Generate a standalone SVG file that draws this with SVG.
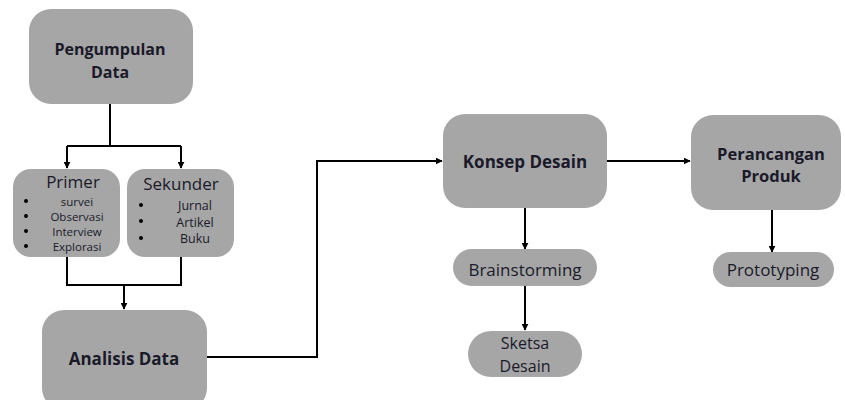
<svg xmlns="http://www.w3.org/2000/svg" width="845" height="400" viewBox="0 0 845 400">
<defs>
<marker id="ah" viewBox="0 0 10 10" refX="9" refY="5" markerWidth="7" markerHeight="7" markerUnits="userSpaceOnUse" orient="auto">
<path d="M0,0 L10,5 L0,10 z" fill="#000"/>
</marker>
<style>
.box{fill:#a6a6a6;}
.t{font-family:"Open Sans","Noto Sans",sans-serif;fill:#1a1a2a;text-anchor:middle;dominant-baseline:central;}
.b{font-weight:bold;font-size:16px;}
.r{font-size:16px;}
.s{font-size:11.5px;}
.dot{fill:#000;}
.c{fill:none;stroke:#000;stroke-width:2;}
</style>
</defs>
<rect width="845" height="400" fill="#fff"/>
<g id="connectors">
<path class="c" d="M110,104 V146 M67,146 H181"/>
<path class="c" d="M67,146 V168" marker-end="url(#ah)"/>
<path class="c" d="M181,146 V168" marker-end="url(#ah)"/>
<path class="c" d="M67,257 V285 H181 V257"/>
<path class="c" d="M124,285 V309" marker-end="url(#ah)"/>
<path class="c" d="M207,357 H317 V161 H442" marker-end="url(#ah)"/>
<path class="c" d="M607,161 H690" marker-end="url(#ah)"/>
<path class="c" d="M525,208 V249" marker-end="url(#ah)"/>
<path class="c" d="M525,286 V330" marker-end="url(#ah)"/>
<path class="c" d="M772,210 V252" marker-end="url(#ah)"/>
</g>
<g id="pengumpulan">
<rect class="box" x="29" y="9" width="164" height="95" rx="22"/>
<text class="t b" x="110" y="49">Pengumpulan</text>
<text class="t b" x="110" y="72">Data</text>
</g>
<g id="primer">
<rect class="box" x="13" y="169" width="107" height="88" rx="18"/>
<text class="t" x="73" y="181" style="font-size:17px">Primer</text>
<circle class="dot" cx="26" cy="201" r="2"/>
<circle class="dot" cx="26" cy="216" r="2"/>
<circle class="dot" cx="26" cy="231" r="2"/>
<circle class="dot" cx="26" cy="246" r="2"/>
<text class="t s" x="77" y="201">survei</text>
<text class="t s" x="77" y="216">Observasi</text>
<text class="t s" x="77" y="231">Interview</text>
<text class="t s" x="77" y="246">Explorasi</text>
</g>
<g id="sekunder">
<rect class="box" x="127" y="169" width="107" height="88" rx="18"/>
<text class="t" x="181" y="183" style="font-size:17px">Sekunder</text>
<circle class="dot" cx="141" cy="205" r="2"/>
<circle class="dot" cx="141" cy="221" r="2"/>
<circle class="dot" cx="141" cy="238" r="2"/>
<text class="t" x="195" y="205" style="font-size:12.5px">Jurnal</text>
<text class="t" x="195" y="222" style="font-size:12.5px">Artikel</text>
<text class="t" x="195" y="238" style="font-size:12.5px">Buku</text>
</g>
<g id="analisis">
<rect class="box" x="42" y="310" width="165" height="100" rx="22"/>
<text class="t b" x="124" y="358" style="font-size:17px">Analisis Data</text>
</g>
<g id="konsep">
<rect class="box" x="443" y="114" width="164" height="94" rx="22"/>
<text class="t b" x="525" y="161" style="font-size:17px">Konsep Desain</text>
</g>
<g id="brainstorming">
<rect class="box" x="453" y="249" width="144" height="37" rx="18.5"/>
<text class="t r" x="525" y="269" style="font-size:17px">Brainstorming</text>
</g>
<g id="sketsa">
<rect class="box" x="468" y="331" width="114" height="46" rx="23"/>
<text class="t r" x="525" y="343">Sketsa</text>
<text class="t r" x="525" y="366">Desain</text>
</g>
<g id="perancangan">
<rect class="box" x="691" y="115" width="150" height="95" rx="22"/>
<text class="t b" x="771" y="153" style="font-size:16.5px">Perancangan</text>
<text class="t b" x="771" y="175" style="font-size:16.5px">Produk</text>
</g>
<g id="prototyping">
<rect class="box" x="713" y="252" width="121" height="35" rx="17.5"/>
<text class="t r" x="773" y="269" style="font-size:17px">Prototyping</text>
</g>
</svg>
